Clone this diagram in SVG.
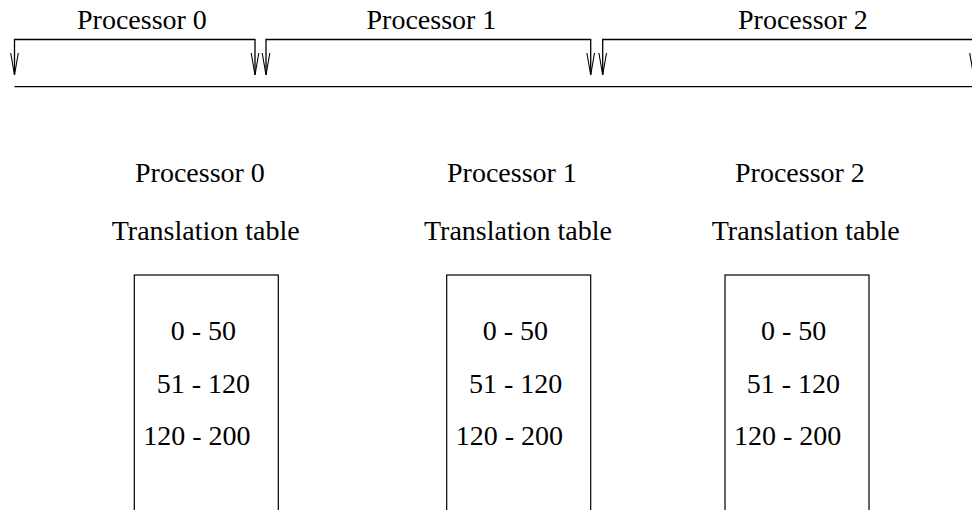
<svg xmlns="http://www.w3.org/2000/svg" width="972" height="510" viewBox="0 0 972 510">
<style>
text{font-family:"Liberation Serif","Times New Roman",serif;font-size:28px;fill:#000}
.ln{fill:none;stroke:#000;stroke-width:1.3}
.box{fill:#fff;stroke:#000;stroke-width:1.2}
</style>
<defs>
<path id="ah" d="M-3.8,-22 L0,0 L3.8,-22" fill="none" stroke="#000" stroke-width="1.1"/>
</defs>
<rect width="972" height="510" fill="#fff"/>
<g id="connectors">
<path class="ln" d="M14.5,75 V39.5 H255 V75"/>
<path class="ln" d="M266,75 V39.5 H590.7 V75"/>
<path class="ln" d="M602.7,75 V39.5 H973.5 V75"/>
<use href="#ah" x="14.5" y="75"/>
<use href="#ah" x="255" y="75"/>
<use href="#ah" x="266" y="75"/>
<use href="#ah" x="590.7" y="75"/>
<use href="#ah" x="602.7" y="75"/>
<use href="#ah" x="973.5" y="75"/>
<path class="ln" d="M14.5,86.7 H972"/>
</g>
<g id="range-labels">
<text x="77" y="29">Processor 0</text>
<text x="366.5" y="29">Processor 1</text>
<text x="738" y="29">Processor 2</text>
</g>
<g id="table0">
<text x="135" y="182">Processor 0</text>
<text x="111.7" y="240">Translation table</text>
<rect class="box" x="134.3" y="275" width="144" height="240"/>
<text x="170.7" y="340">0 - 50</text>
<text x="156.7" y="392.5">51 - 120</text>
<text x="143.3" y="444.5">120 - 200</text>
</g>
<g id="table1">
<text x="447" y="182">Processor 1</text>
<text x="424" y="240">Translation table</text>
<rect class="box" x="446.7" y="275" width="144" height="240"/>
<text x="482.7" y="340">0 - 50</text>
<text x="469" y="392.5">51 - 120</text>
<text x="455.7" y="444.5">120 - 200</text>
</g>
<g id="table2">
<text x="735" y="182">Processor 2</text>
<text x="711.7" y="240">Translation table</text>
<rect class="box" x="725" y="275" width="144" height="240"/>
<text x="761" y="340">0 - 50</text>
<text x="746.7" y="392.5">51 - 120</text>
<text x="734" y="444.5">120 - 200</text>
</g>
</svg>
